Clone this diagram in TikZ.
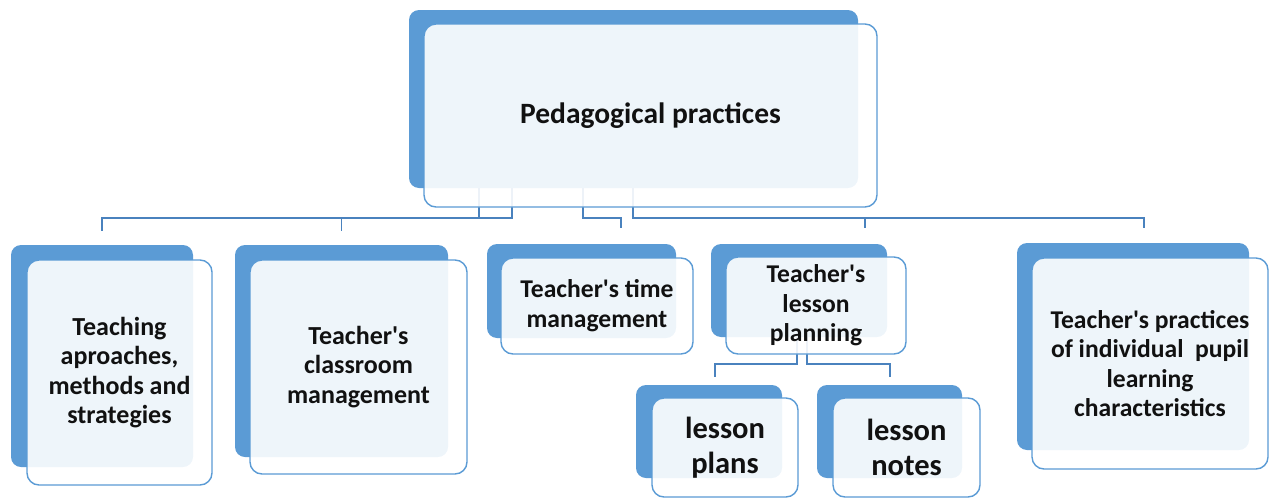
\documentclass[tikz,border=0pt]{standalone}
\usepackage{fontspec}
\setmainfont{Carlito}[Ligatures=TeXOff]
\definecolor{sblue}{HTML}{5B9BD5}
\definecolor{lblue}{HTML}{4A82BE}
\definecolor{txt}{HTML}{111111}
\newcommand\backrect[5]{\node[backbox, minimum width={#4-#2}, minimum height={#5-#3}] (#1) at ({(#2+#4)/2},{(#3+#5)/2}) {};}
\newcommand\frontrect[8]{\node[frontbox, font=\bfseries\fontsize{#6}{#7}\selectfont, minimum width={#4-#2}, minimum height={#5-#3}] (#1) at ({(#2+#4)/2},{(#3+#5)/2}) {#8};}
\tikzset{
  backbox/.style={fill=sblue, rounded corners=10pt, inner sep=0pt, draw=none},
  frontbox/.style={draw=sblue, line width=1.4pt, fill=white, fill opacity=0.9, text opacity=1,
    rounded corners=12pt, inner sep=0pt, align=center, text=txt},
  conn/.style={draw=lblue, line width=1.3pt},
}
\begin{document}
\begin{tikzpicture}[x=1pt,y=-1pt]
\useasboundingbox (0,0) rectangle (1271,498);
% back boxes
\backrect{tb}{409}{10}{858}{188}
\backrect{b1b}{11}{245}{193}{467}
\backrect{b2b}{235}{245}{448}{457}
\backrect{b3b}{487}{244}{676}{338}
\backrect{b4b}{711}{244}{887}{337}
\backrect{b5b}{1017}{243}{1249}{450}
\backrect{c1b}{636}{385}{782}{478}
\backrect{c2b}{817}{385}{962}{478}
% connector end points
\coordinate (bus) at (0,218);
\coordinate (e3) at (621,228);
\coordinate (e4) at (865,228);
\coordinate (e5) at (1144,228);
\coordinate (sub) at (0,364);
\coordinate (f1) at (715,377);
\coordinate (f2) at (890,377);
% connectors
\draw[conn] ([xshift=-154.5pt]tb.south) |- (bus -| b1b.north) -- ([yshift=14pt]b1b.north);
\draw[conn] ([xshift=-121.5pt]tb.south) |- (bus -| b2b.north) -- ([yshift=14pt]b2b.north);
\draw[conn] ([xshift=-50.5pt]tb.south) |- (bus -| e3) -- (e3);
\draw[conn] ([xshift=-0.5pt]tb.south) |- (bus -| e4) -- (e4);
\draw[conn] ([xshift=-0.5pt]tb.south) |- (bus -| e5) -- (e5);
\draw[conn] ([xshift=-2pt]b4b.south) |- (sub -| f1) -- (f1);
\draw[conn] ([xshift=8pt]b4b.south) |- (sub -| f2) -- (f2);
% front boxes
\frontrect{top}{424}{24}{877}{207}{29.5}{35}{Pedagogical practices}
\frontrect{b1}{27}{260}{212}{485}{26}{29.5}{Teaching\\aproaches,\\methods and\\strategies}
\frontrect{b2}{250}{260}{467}{474}{26}{29.5}{Teacher's\\classroom\\management}
\frontrect{b3}{501}{258}{693}{354}{25.6}{30}{Teacher's time\\management}
\frontrect{b4}{726}{257}{906}{354}{25.6}{29.5}{Teacher's\\lesson\\planning}
\frontrect{b5}{1032}{258}{1268}{469}{25.6}{29.5}{Teacher's practices\\of individual~ pupil\\learning\\characteristics}
\frontrect{c1}{652}{398}{798}{497}{30.5}{35}{lesson\\plans}
\frontrect{c2}{833}{398}{980}{497}{30.5}{35}{lesson\\notes}
\end{tikzpicture}
\end{document}
